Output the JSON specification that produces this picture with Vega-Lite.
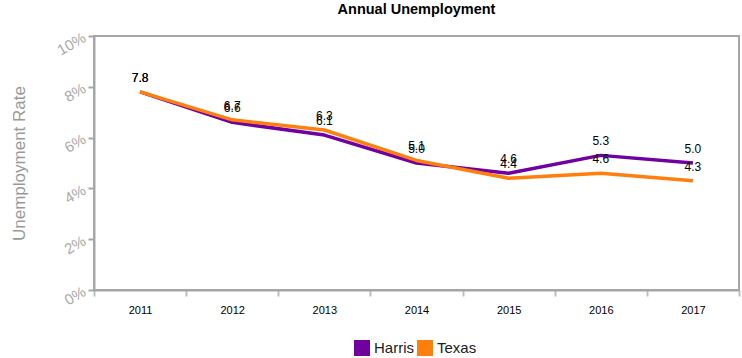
{
  "$schema": "https://vega.github.io/schema/vega-lite/v6.json",
  "autosize": "none",
  "width": 645,
  "height": 254,
  "padding": {"left": 94, "top": 36, "right": 3, "bottom": 68},
  "background": "white",
  "config": {
    "font": "Liberation Sans",
    "view": {"stroke": "#a6a6a6", "strokeWidth": 2}
  },
  "title": {
    "text": "Annual Unemployment",
    "fontSize": 14.5,
    "fontWeight": "bold",
    "color": "#000000",
    "offset": 12,
    "anchor": "middle"
  },
  "data": {
    "values": [
      {"year": "2011", "area": "Harris", "rate": 7.8},
      {"year": "2012", "area": "Harris", "rate": 6.6},
      {"year": "2013", "area": "Harris", "rate": 6.1},
      {"year": "2014", "area": "Harris", "rate": 5.0},
      {"year": "2015", "area": "Harris", "rate": 4.6},
      {"year": "2016", "area": "Harris", "rate": 5.3},
      {"year": "2017", "area": "Harris", "rate": 5.0},
      {"year": "2011", "area": "Texas", "rate": 7.8},
      {"year": "2012", "area": "Texas", "rate": 6.7},
      {"year": "2013", "area": "Texas", "rate": 6.3},
      {"year": "2014", "area": "Texas", "rate": 5.1},
      {"year": "2015", "area": "Texas", "rate": 4.4},
      {"year": "2016", "area": "Texas", "rate": 4.6},
      {"year": "2017", "area": "Texas", "rate": 4.3}
    ]
  },
  "encoding": {
    "x": {
      "field": "year",
      "type": "ordinal",
      "scale": {"paddingInner": 0, "paddingOuter": 0},
      "axis": {
        "title": null,
        "labelAngle": 0,
        "labelFontSize": 11,
        "labelColor": "#000000",
        "labelPadding": 8,
        "tickBand": "extent",
        "tickColor": "#bfbfbf",
        "tickWidth": 2,
        "tickSize": 6,
        "domainColor": "#a6a6a6",
        "domainWidth": 2
      }
    },
    "y": {
      "field": "rate",
      "type": "quantitative",
      "scale": {"domain": [0, 10], "nice": false},
      "axis": {
        "title": "Unemployment Rate",
        "titleFontSize": 17,
        "titleFontWeight": "normal",
        "titleColor": "#999999",
        "titlePadding": 26,
        "values": [0, 2, 4, 6, 8, 10],
        "labelExpr": "datum.value + '%'",
        "labelAngle": -30,
        "labelFontSize": 15,
        "labelColor": "#aaaaaa",
        "labelAlign": "right",
        "labelBaseline": "middle",
        "labelPadding": 4,
        "grid": false,
        "tickColor": "#a6a6a6",
        "tickWidth": 2,
        "tickSize": 6,
        "domainColor": "#a6a6a6",
        "domainWidth": 2
      }
    }
  },
  "layer": [
    {
      "mark": {"type": "line", "strokeWidth": 3.5, "strokeJoin": "round"},
      "encoding": {
        "color": {
          "field": "area",
          "type": "nominal",
          "scale": {"domain": ["Harris", "Texas"], "range": ["#7000a0", "#ff7f0e"]},
          "legend": {
            "title": null,
            "orient": "none",
            "legendX": 260,
            "legendY": 304,
            "direction": "horizontal",
            "symbolType": "square",
            "symbolSize": 256,
            "symbolStrokeWidth": 0,
            "symbolOpacity": 1,
            "labelFontSize": 15,
            "labelColor": "#222222",
            "columnPadding": 3,
            "labelOffset": 4,
            "encode": {
              "symbols": {
                "update": {
                  "fill": {"scale": "color", "field": "value"},
                  "strokeWidth": {"value": 0}
                }
              }
            }
          }
        }
      }
    },
    {
      "mark": {"type": "text", "dy": -14, "fontSize": 12, "color": "#000000"},
      "encoding": {
        "text": {"field": "rate", "type": "quantitative", "format": ".1f"},
        "detail": {"field": "area"}
      }
    }
  ]
}
